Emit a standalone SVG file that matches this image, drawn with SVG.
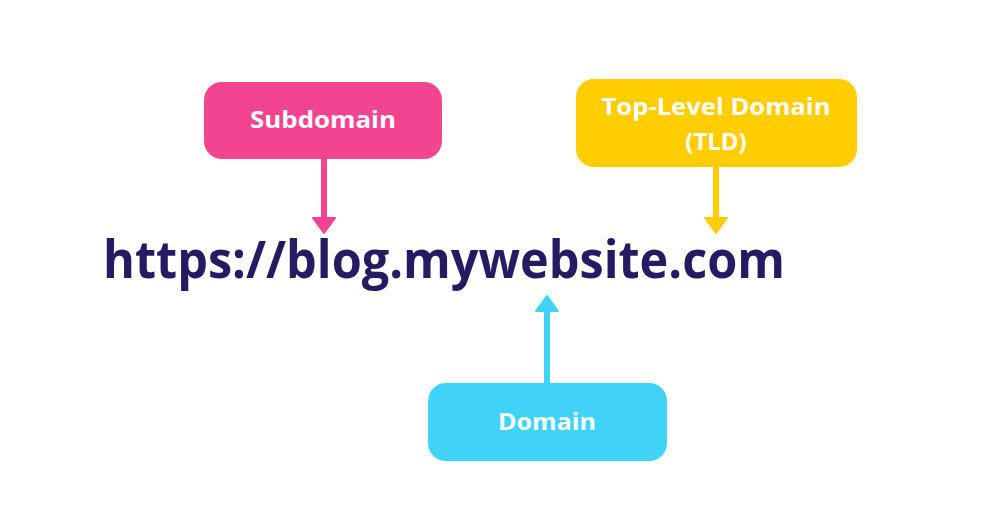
<svg xmlns="http://www.w3.org/2000/svg" width="990" height="519" viewBox="0 0 990 519">
  <style>
    .lbl { font-family: "Open Sans", "Liberation Sans", sans-serif; font-weight: 700; font-size: 24px; fill: #ffffff; text-anchor: middle; }
    .url { font-family: "Open Sans", "Liberation Sans", sans-serif; font-weight: 700; font-size: 52px; fill: #261B63; }
    .conn { stroke-width: 6; fill: none; }
  </style>
  <defs>
    <marker id="headPink" viewBox="-2 -14 20 28" markerWidth="20" markerHeight="28" refX="0" refY="0" orient="auto" markerUnits="userSpaceOnUse" overflow="visible">
      <path d="M0,-11 L15,0 L0,11 Z" fill="#F34491" stroke="#F34491" stroke-width="2" stroke-linejoin="round"/>
    </marker>
    <marker id="headYellow" viewBox="-2 -14 20 28" markerWidth="20" markerHeight="28" refX="0" refY="0" orient="auto" markerUnits="userSpaceOnUse" overflow="visible">
      <path d="M0,-11 L15,0 L0,11 Z" fill="#FFCD00" stroke="#FFCD00" stroke-width="2" stroke-linejoin="round"/>
    </marker>
    <marker id="headCyan" viewBox="-2 -14 20 28" markerWidth="20" markerHeight="28" refX="0" refY="0" orient="auto" markerUnits="userSpaceOnUse" overflow="visible">
      <path d="M0,-11 L15,0 L0,11 Z" fill="#3FD4F7" stroke="#3FD4F7" stroke-width="2" stroke-linejoin="round"/>
    </marker>
  </defs>
  <rect width="990" height="519" fill="#ffffff"/>

  <g id="connectors">
    <line class="conn" x1="324" y1="158" x2="324" y2="218" stroke="#F34491" marker-end="url(#headPink)"/>
    <line class="conn" x1="716" y1="166" x2="716" y2="218" stroke="#FFCD00" marker-end="url(#headYellow)"/>
    <line class="conn" x1="547" y1="384" x2="547" y2="311" stroke="#3FD4F7" marker-end="url(#headCyan)"/>
  </g>

  <g id="subdomain">
    <rect x="204" y="82" width="238" height="77" rx="18" fill="#F34491"/>
    <text class="lbl" x="323" y="128" textLength="146" lengthAdjust="spacingAndGlyphs">Subdomain</text>
  </g>

  <g id="tld">
    <rect x="576" y="79" width="281" height="88" rx="18" fill="#FFCD00"/>
    <text class="lbl" x="716" y="115" textLength="229" lengthAdjust="spacingAndGlyphs">Top-Level Domain</text>
    <text class="lbl" x="716" y="150">(TLD)</text>
  </g>

  <g id="url">
    <text class="url" x="103" y="278" textLength="682" lengthAdjust="spacingAndGlyphs">https://blog.mywebsite.com</text>
  </g>

  <g id="domain">
    <rect x="428" y="383" width="239" height="78" rx="18" fill="#3FD4F7"/>
    <text class="lbl" x="547" y="430" textLength="98" lengthAdjust="spacingAndGlyphs">Domain</text>
  </g>
</svg>
